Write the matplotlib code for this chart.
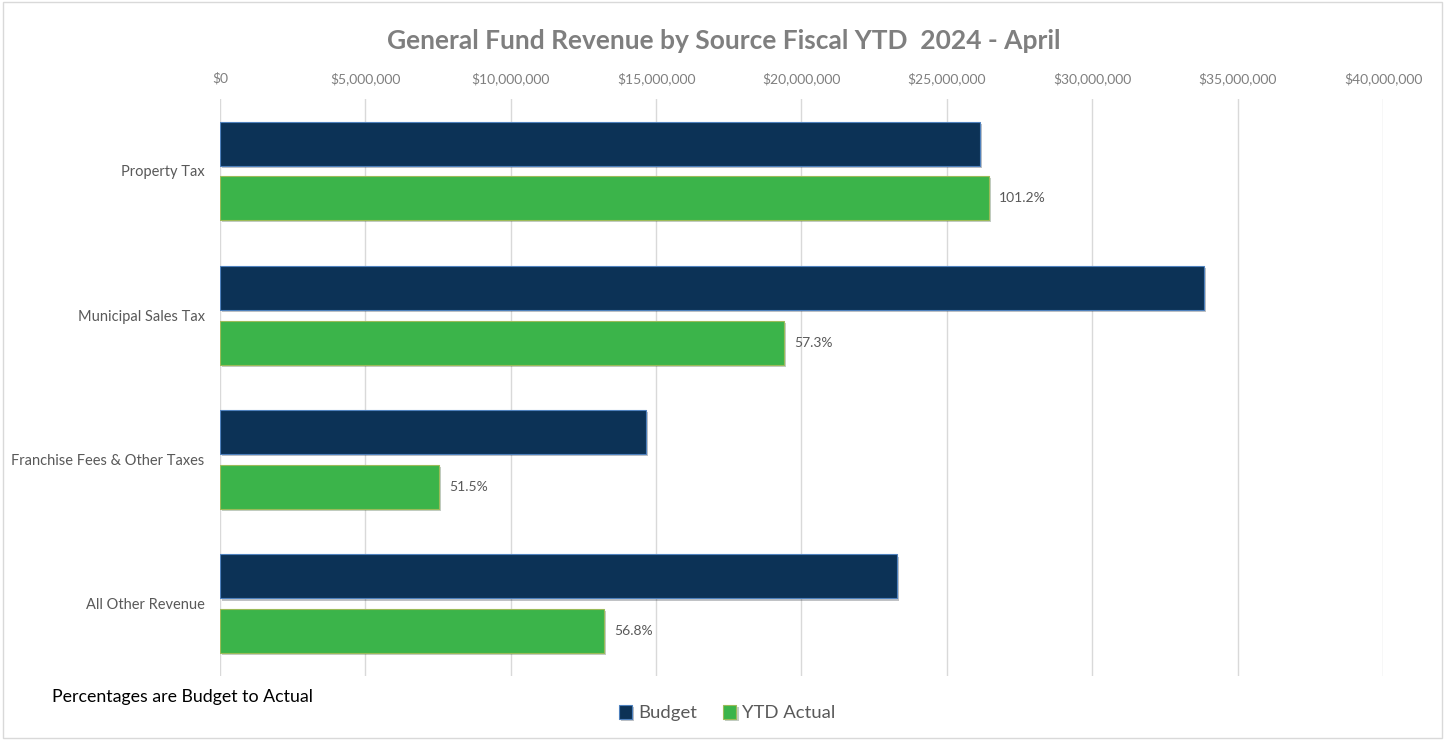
import matplotlib
matplotlib.use("Agg")
import matplotlib.pyplot as plt
import matplotlib.patheffects as pe
from matplotlib.patches import Rectangle
from matplotlib.ticker import FuncFormatter
import numpy as np

plt.rcParams["font.family"] = ["Lato", "DejaVu Sans"]

# ── Data ──────────────────────────────────────────────────────────────────────
categories = ["Property Tax", "Municipal Sales Tax",
              "Franchise Fees & Other Taxes", "All Other Revenue"]
budget     = [26_140_000, 33_840_000, 14_650_000, 23_280_000]
ytd_actual = [26_450_000, 19_400_000, 7_540_000, 13_210_000]
pct_labels = ["101.2%", "57.3%", "51.5%", "56.8%"]

BUDGET_COL = "#0C3256"
ACTUAL_COL = "#3BB44A"
GREY_TXT   = "#7F7F7F"

fig = plt.figure(figsize=(14.48, 7.4), dpi=100, facecolor="white")
ax = fig.add_axes([0.1519, 0.0865, 0.8032, 0.780])

y = np.arange(len(categories))
h = 0.305
off = 0.19
shadow = [pe.SimplePatchShadow(offset=(1.5, -1.5), alpha=0.25), pe.Normal()]

b1 = ax.barh(y - off, budget, height=h, color=BUDGET_COL,
             edgecolor="#4F81BD", linewidth=0.8, label="Budget", zorder=3)
b2 = ax.barh(y + off, ytd_actual, height=h, color=ACTUAL_COL,
             edgecolor="#9BBB59", linewidth=0.8, label="YTD Actual", zorder=3)
for bar in list(b1) + list(b2):
    bar.set_path_effects(shadow)

# budget-to-actual labels next to the green bars
for yi, val, lab in zip(y, ytd_actual, pct_labels):
    ax.text(val + 350_000, yi + off, lab, va="center", ha="left",
            fontsize=10, color="#595959")

ax.set_xlim(0, 40_000_000)
ax.set_ylim(len(categories) - 0.5, -0.5)
ax.set_yticks(y)
ax.set_yticklabels(categories, fontsize=10.5, color="#595959")
ax.set_xticks(np.arange(0, 40_000_001, 5_000_000))
ax.xaxis.set_major_formatter(FuncFormatter(lambda v, p: f"${v:,.0f}"))
ax.xaxis.tick_top()
ax.tick_params(axis="x", labelsize=10, labelcolor=GREY_TXT, length=0, pad=10)
ax.tick_params(axis="y", length=0, pad=11)
ax.grid(axis="x", color="#D9D9D9", linewidth=1, zorder=0)
for s in ax.spines.values():
    s.set_visible(False)

fig.text(0.5, 0.945, "General Fund Revenue by Source Fiscal YTD  2024 - April",
         ha="center", va="center", fontsize=19, fontweight="bold", color=GREY_TXT)
fig.text(0.036, 0.058, "Percentages are Budget to Actual", ha="left", va="center",
         fontsize=12.8, color="black")

fig.legend(handles=[b1, b2], loc="center", bbox_to_anchor=(0.502, 0.036),
           ncol=2, frameon=False, fontsize=13.3, labelcolor="#595959",
           handlelength=0.75, handleheight=0.75, handletextpad=0.3,
           columnspacing=1.4)

fig.patches.append(Rectangle((0.002, 0.003), 0.994, 0.994, transform=fig.transFigure,
                             fill=False, edgecolor="#D9D9D9", linewidth=1))

fig.savefig("out.png", dpi=100, facecolor="white")
